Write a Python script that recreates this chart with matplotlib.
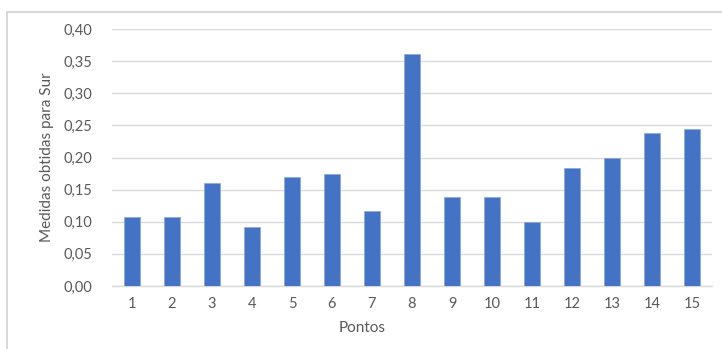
import matplotlib
matplotlib.use("Agg")
import matplotlib.pyplot as plt
import matplotlib.patches as mpatches
from matplotlib.ticker import FuncFormatter

# Valores medidos por ponto
pontos = [str(i) for i in range(1, 16)]
medidas = [0.107, 0.107, 0.161, 0.092, 0.169, 0.175, 0.116, 0.361,
           0.138, 0.138, 0.099, 0.184, 0.199, 0.238, 0.245]
yticks = [0.0, 0.05, 0.10, 0.15, 0.20, 0.25, 0.30, 0.35, 0.40]

plt.rcParams['font.family'] = ['Lato', 'DejaVu Sans']
cinza = '#595959'

fig = plt.figure(figsize=(7.22, 3.49), dpi=100)
ax = fig.add_axes([112 / 722, 1 - 286 / 349, 600 / 722, 257 / 349])

x = range(len(pontos))
ax.bar(x, medidas, width=0.4, color='#4472C4', edgecolor='#8FAADC', linewidth=0.6, zorder=3)

ax.set_xlim(-0.5, len(pontos) - 0.5)
ax.set_ylim(0, 0.40)
ax.set_yticks(yticks)
ax.yaxis.set_major_formatter(FuncFormatter(lambda v, p: f'{v:.2f}'.replace('.', ',')))
ax.set_xticks(list(x))
ax.set_xticklabels(pontos)

ax.grid(axis='y', color='#d9d9d9', linewidth=1.0, zorder=0)
for s in ['top', 'right', 'left']:
    ax.spines[s].set_visible(False)
ax.spines['bottom'].set_color('#d9d9d9')
ax.spines['bottom'].set_linewidth(1.0)
ax.tick_params(axis='both', length=0, colors=cinza, labelsize=10.5)
ax.tick_params(axis='y', pad=14)
ax.tick_params(axis='x', pad=8)

ax.set_ylabel('Medidas obtidas para Sur', color=cinza, fontsize=11, labelpad=7)
fig.text(362 / 722, 1 - 328 / 349, 'Pontos', color=cinza, fontsize=11,
         ha='center', va='center')

# Borda da área do gráfico
borda = mpatches.Rectangle((7 / 722, -0.2), 1.2, 0.2 + (1 - 12 / 349),
                           transform=fig.transFigure, fill=False,
                           edgecolor='#d9d9d9', linewidth=1.5, clip_on=False)
fig.patches.append(borda)

fig.savefig('out.png', dpi=100, facecolor='white')
